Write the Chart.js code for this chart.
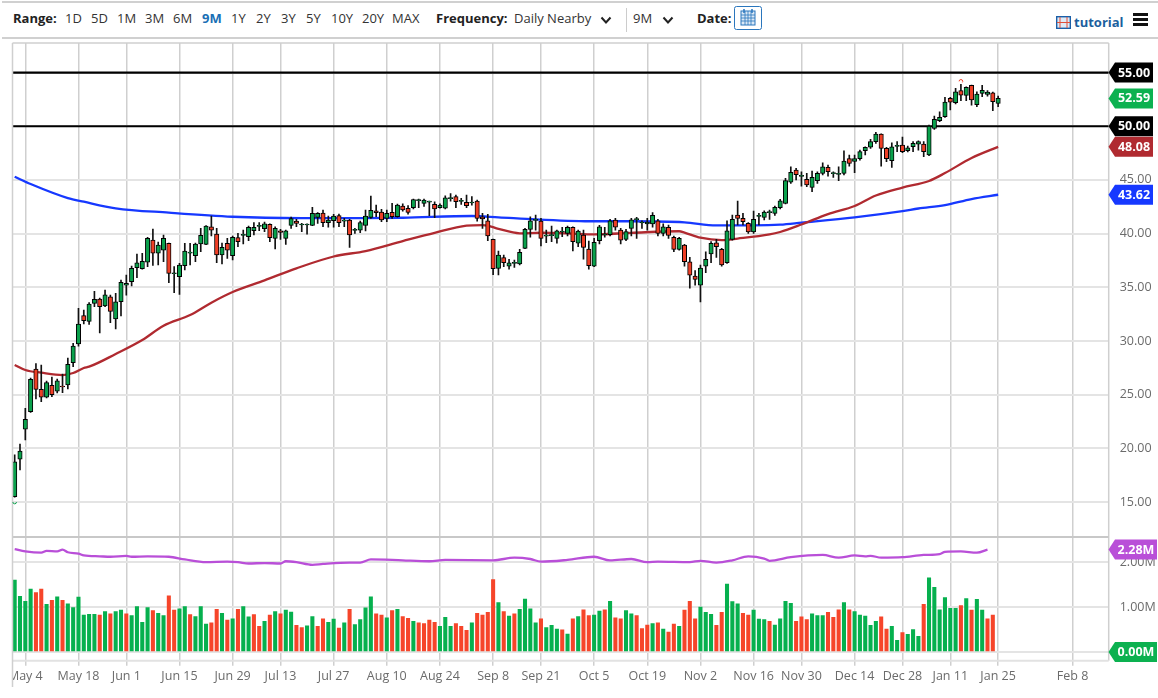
<!DOCTYPE html>
<html>
<head>
<meta charset="utf-8">
<title>Daily Nearby</title>
<script src="https://cdn.jsdelivr.net/npm/chart.js@4/dist/chart.umd.min.js"></script>
<style>
  html, body { margin: 0; padding: 0; background: #fff; }
  body { width: 1158px; height: 698px; overflow: hidden; position: relative; font-family: "Open Sans", sans-serif; }
  #chart { position: absolute; left: 0; top: 0; }
  .rule { position: absolute; left: 2px; right: 0; height: 1px; background: #d0d0d0; }
  .tb { position: absolute; top: 9px; font-size: 13px; line-height: 18px; color: #333; white-space: nowrap; }
  .tb.b { font-weight: 700; color: #222; }
  .tb.on { font-weight: 700; color: #1a6fb5; }
  .ic { position: absolute; }
</style>
</head>
<body>
<div class="rule" style="top:1px;height:2px"></div>
<div class="rule" style="top:37px;height:2px"></div>
<span class="tb b" style="left:13px">Range:</span>
<span class="tb" style="left:65px">1D</span>
<span class="tb" style="left:91px">5D</span>
<span class="tb" style="left:117px">1M</span>
<span class="tb" style="left:145px">3M</span>
<span class="tb" style="left:173px">6M</span>
<span class="tb on" style="left:202px">9M</span>
<span class="tb" style="left:231px">1Y</span>
<span class="tb" style="left:256px">2Y</span>
<span class="tb" style="left:281px">3Y</span>
<span class="tb" style="left:306px">5Y</span>
<span class="tb" style="left:331px">10Y</span>
<span class="tb" style="left:362px">20Y</span>
<span class="tb" style="left:392px">MAX</span>
<span class="tb b" style="left:436px">Frequency:</span>
<span class="tb" style="left:514px">Daily Nearby</span>
<svg class="ic" style="left:600px;top:16px" width="12" height="9"><polyline points="1.5,1.5 6,6.5 10.5,1.5" fill="none" stroke="#222" stroke-width="2"/></svg>
<div class="ic" style="left:626px;top:8px;width:1px;height:24px;background:#ccc"></div>
<span class="tb" style="left:633px">9M</span>
<svg class="ic" style="left:662px;top:16px" width="12" height="9"><polyline points="1.5,1.5 6,6.5 10.5,1.5" fill="none" stroke="#222" stroke-width="2"/></svg>
<span class="tb b" style="left:697px">Date:</span>
<svg class="ic" style="left:734px;top:6px" width="28" height="24"><rect x="0.5" y="0.5" width="27" height="23" rx="2" fill="#fff" stroke="#2a76bd"/><rect x="7" y="5" width="14" height="14" fill="#dbe8f5" stroke="#2a76bd"/><path d="M7 9h14M7 12h14M7 15h14M11 5v14M14 5v14M17 5v14" stroke="#2a76bd" stroke-width="0.8"/><path d="M10 3v4M18 3v4" stroke="#2a76bd" stroke-width="1.5"/></svg>
<svg class="ic" style="left:1056px;top:16px" width="15" height="13"><rect x="0.7" y="0.7" width="13.6" height="11.6" fill="#dfeaf6" stroke="#1a5fa8" stroke-width="1.4"/><path d="M4 1v11M11 1v11M1 6.5h13" stroke="#e0503a" stroke-width="1"/></svg>
<span class="tb" style="left:1074px;top:13px;font-weight:700;color:#1c5f9e;font-size:13px">tutorial</span>
<div class="ic" style="left:1133px;top:13px;width:15px;height:3px;background:#111"></div>
<div class="ic" style="left:1133px;top:18px;width:15px;height:3px;background:#111"></div>
<div class="ic" style="left:1133px;top:23px;width:15px;height:3px;background:#111"></div>
<canvas id="chart" width="1158" height="698"></canvas>
<script>
const tickIndexes = [2, 12, 21, 31, 41, 50, 60, 70, 80, 90, 99, 109, 119, 129, 139, 148, 158, 167, 176, 185, 199];
const tickLabels = ['May 4', 'May 18', 'Jun 1', 'Jun 15', 'Jun 29', 'Jul 13', 'Jul 27', 'Aug 10', 'Aug 24', 'Sep 8', 'Sep 21', 'Oct 5', 'Oct 19', 'Nov 2', 'Nov 16', 'Nov 30', 'Dec 14', 'Dec 28', 'Jan 11', 'Jan 25', 'Feb 8'];
const priceTicks = [15, 20, 25, 30, 35, 40, 45, 50, 55];
const volumeTicks = [0, 1, 2];
const levels = [55, 50];

const opens = [15.5,19.0,21.78,23.42,27.39,25.5,24.76,25.88,25.32,25.78,
  25.9,27.98,29.72,32.36,31.83,33.51,33.91,33.26,34.12,32.05,
  33.66,35.19,35.52,36.82,36.73,37.33,39.4,38.17,38.47,39.1,
  36.26,35.99,37.01,38.19,37.94,39.03,39.0,40.64,39.96,38.01,
  39.1,37.94,39.62,39.84,39.71,40.27,40.68,40.46,40.87,39.56,
  40.27,39.56,40.77,41.17,40.8,40.8,40.77,41.52,41.92,41.02,
  41.2,41.67,41.17,41.27,40.3,40.33,40.77,41.52,42.13,42.01,
  41.42,41.98,41.57,42.57,42.36,42.41,43.07,42.82,42.94,42.73,
  42.41,42.36,43.26,43.44,43.0,42.91,42.85,43.03,41.57,41.2,
  39.47,36.77,37.76,36.98,37.23,37.17,38.63,40.4,41.24,41.17,
  39.77,39.81,39.56,40.15,40.03,40.59,39.1,39.87,38.57,36.98,
  39.34,39.87,39.9,41.27,40.33,39.47,40.49,41.3,40.99,40.9,
  40.9,41.2,40.03,40.59,39.66,38.54,38.94,37.38,36.05,35.19,
  36.98,38.1,39.15,38.54,37.29,39.47,41.73,41.42,40.96,40.15,
  41.61,41.52,41.95,41.89,42.41,42.82,44.78,45.92,45.33,45.06,
  44.31,44.93,45.61,46.17,45.58,45.52,45.61,46.98,46.73,46.98,
  47.72,48.04,48.56,49.27,47.94,46.79,48.13,48.25,47.72,48.09,
  48.34,48.34,47.32,49.8,50.51,50.88,52.6,52.19,53.31,52.88,
  53.81,52.0,53.06,52.97,53.12,52.13];
const closes = [18.76,19.75,22.7,26.43,25.5,24.76,26.12,25.0,26.3,25.72,
  27.83,29.53,31.58,31.89,33.44,33.88,33.19,34.31,32.76,33.66,
  35.47,35.37,36.77,37.29,37.42,39.56,38.17,38.94,39.56,36.3,
  36.32,37.08,38.38,38.25,39.03,39.84,40.71,40.33,38.01,38.72,
  38.47,39.66,39.25,39.9,40.59,40.59,40.74,40.9,39.62,40.49,
  40.12,40.27,41.39,40.96,40.86,40.86,41.89,41.89,41.02,41.27,
  41.64,41.02,41.23,39.87,40.36,41.02,41.64,42.17,41.95,41.27,
  41.89,41.57,42.66,42.2,41.98,43.16,43.13,43.13,43.0,42.29,
  42.66,43.34,43.32,42.97,43.06,42.6,42.91,41.42,41.36,39.78,
  36.73,38.01,37.29,37.29,37.29,38.26,40.4,41.2,41.3,39.56,
  39.83,39.87,40.27,40.21,40.59,39.25,40.24,38.72,37.01,39.19,
  40.64,39.93,41.2,40.59,39.4,40.18,41.29,41.36,41.05,41.08,
  41.7,40.03,40.64,39.84,38.54,39.56,37.38,36.12,35.74,36.8,
  37.61,39.1,38.78,37.08,40.27,41.33,41.42,41.11,40.15,41.33,
  41.67,42.01,42.01,42.45,43.06,44.93,45.71,45.48,45.39,44.53,
  45.24,45.61,46.23,45.76,45.64,45.58,46.76,46.54,46.98,47.63,
  48.04,48.56,49.27,47.94,46.98,48.09,48.19,47.63,48.0,48.41,
  48.56,47.63,50.02,50.64,50.83,52.25,52.25,53.21,52.9,53.62,
  52.44,53.0,53.34,53.18,52.28,52.59];
const highs = [19.4,20.4,23.73,26.55,27.9,27.76,26.28,26.65,26.46,26.93,
  28.42,29.78,33.04,32.89,33.57,34.63,34.0,34.75,34.28,34.44,
  35.68,36.15,36.98,38.1,38.17,39.65,40.43,39.22,39.87,39.12,
  36.92,37.24,39.1,39.1,39.12,40.49,40.75,41.64,40.49,39.12,
  39.56,39.78,40.03,40.33,40.71,41.02,41.02,41.08,40.9,40.64,
  40.4,40.33,41.54,41.33,40.96,40.9,42.45,41.95,42.2,41.64,
  41.8,41.83,41.42,41.33,40.49,41.17,42.2,43.5,42.66,42.26,
  42.2,42.82,42.76,42.78,42.6,43.22,43.22,43.22,43.03,42.97,
  42.78,43.53,43.72,43.6,43.29,43.6,43.44,43.13,41.89,41.8,
  39.5,38.38,38.01,37.61,37.54,38.54,40.49,41.57,41.73,41.42,
  40.33,40.71,40.33,40.59,40.71,40.64,40.33,40.33,39.31,39.56,
  40.77,40.59,41.33,41.42,40.49,40.4,41.42,41.52,41.2,41.42,
  41.95,41.33,40.9,40.8,39.78,39.66,39.0,37.79,36.55,37.08,
  38.31,39.25,39.47,38.63,41.2,41.73,43.03,41.89,41.02,42.1,
  41.89,42.13,42.2,42.57,43.2,45.15,46.23,46.08,45.76,45.61,
  45.83,45.76,46.6,46.39,45.76,46.23,47.72,47.32,47.32,47.78,
  48.09,48.78,49.43,49.3,48.04,48.46,48.56,48.98,48.16,48.56,
  48.65,48.56,50.11,50.95,51.35,52.69,52.69,53.53,53.9,53.68,
  53.84,53.21,53.81,53.31,53.18,52.81];
const lows = [15.47,18.0,20.78,23.34,24.6,24.35,24.7,24.82,25.16,25.19,
  25.53,27.6,29.53,31.58,31.55,33.19,30.75,33.19,31.7,31.12,
  32.33,34.28,35.12,35.89,36.68,36.92,37.05,37.08,37.38,35.43,
  34.5,34.35,36.61,37.08,37.38,38.31,38.98,39.78,37.29,37.17,
  37.7,37.54,38.78,39.03,39.34,39.87,40.27,40.18,39.25,38.57,
  39.47,39.0,40.49,40.64,40.18,39.96,40.75,40.96,40.64,40.59,
  40.59,40.64,40.64,38.72,40.03,40.08,40.24,41.42,41.57,41.11,
  41.11,41.42,41.54,42.1,41.8,42.29,42.41,42.54,41.67,41.48,
  42.36,42.29,43.03,42.41,42.73,42.41,42.66,41.17,40.49,39.34,
  36.17,36.15,36.92,36.68,36.86,37.08,38.6,39.66,40.33,38.85,
  39.15,39.25,39.1,39.71,39.78,38.4,38.78,37.61,36.68,36.92,
  39.03,39.66,39.78,40.33,39.03,39.34,39.78,39.56,40.49,40.33,
  40.59,39.78,39.78,39.56,38.31,38.47,36.98,34.93,35.21,33.63,
  36.36,37.29,37.79,36.98,37.23,39.4,40.8,40.8,40.03,40.03,
  40.8,41.27,41.33,41.7,42.3,42.76,44.68,44.99,44.43,44.37,
  43.9,44.68,45.46,45.36,45.24,44.93,45.46,46.29,45.67,46.85,
  47.32,47.94,48.41,46.29,46.69,46.17,47.63,47.53,47.6,47.63,
  47.78,47.16,47.25,49.71,50.42,50.83,51.51,52.07,52.37,52.37,
  51.95,51.82,52.75,52.81,51.44,51.82];

const volumes = [1.60,1.24,1.13,1.40,1.32,1.40,1.06,1.15,1.23,1.15,
  1.07,0.99,1.22,0.82,0.84,0.84,0.82,0.90,0.85,0.90,
  0.93,0.85,0.81,1.01,0.66,0.99,0.92,0.86,0.81,1.25,
  0.93,0.96,1.01,0.83,0.79,1.01,0.62,0.65,0.95,0.86,
  0.71,0.74,0.95,1.01,0.78,0.83,0.57,0.68,0.82,0.90,
  0.85,0.93,0.89,0.59,0.54,0.58,0.79,0.57,0.74,0.66,
  0.73,0.53,0.65,0.95,0.61,0.72,0.98,1.23,0.85,0.82,
  0.76,0.92,0.95,0.79,0.75,0.68,0.65,0.63,0.71,0.66,
  0.57,0.77,0.57,0.63,0.57,0.48,0.65,0.86,0.82,0.88,
  1.61,1.10,0.90,0.80,0.85,0.95,1.18,0.96,0.65,0.74,
  0.54,0.59,0.51,0.49,0.40,0.74,0.79,0.94,0.81,0.82,
  0.91,0.94,1.13,0.76,0.74,0.92,0.85,0.81,0.52,0.60,
  0.63,0.65,0.51,0.44,0.62,0.57,0.93,1.13,0.74,1.00,
  0.88,0.84,0.59,0.88,1.51,1.12,1.07,0.86,0.82,0.93,
  0.73,0.72,0.68,0.60,0.74,1.13,1.08,0.68,0.78,0.72,
  0.85,0.81,0.81,0.88,0.77,0.94,1.10,0.94,0.90,0.82,
  0.80,0.59,0.68,0.78,0.51,0.57,0.26,0.43,0.39,0.50,
  0.35,1.06,1.65,1.44,0.94,1.21,0.97,0.97,1.03,1.19,
  0.93,1.17,0.93,0.74,0.82];
// 1 = green bar, 0 = red bar
const volumeUp = [1,1,1,1,0,0,1,0,1,0,1,1,1,1,1,1,0,1,0,1,
  1,0,1,1,1,1,0,1,1,0,0,1,1,0,1,1,1,0,0,1,
  0,1,0,1,1,0,0,1,0,1,0,1,1,0,0,1,1,0,0,1,
  1,0,1,0,1,1,1,1,0,0,1,0,1,0,0,1,0,0,0,0,
  1,1,1,0,0,0,1,0,0,0,0,1,0,1,0,1,1,1,1,0,
  1,1,1,0,1,0,1,0,0,1,1,0,1,0,0,1,1,0,0,0,
  1,0,1,0,0,1,0,0,0,1,1,1,0,0,1,1,1,0,0,1,
  1,1,0,1,1,1,1,0,0,0,1,1,1,0,0,0,1,0,1,1,
  1,1,1,0,0,1,1,0,1,1,1,0,1,1,1,1,1,1,0,1,
  0,1,1,0,0];

const ma50Idx = [0,2,5,9,11,13,14,19,24,28,33,37,41,47,53,60,66,73,79,85,88,89,91,95,99,104,109,116,125,126,129,133,136,142,144,148,153,158,162,167,172,175,180,185];
const ma50 = [27.77,27.3,27.05,26.83,27.02,27.49,27.61,28.79,30.09,31.42,32.42,33.57,34.56,35.65,36.77,37.87,38.38,39.31,40.08,40.74,40.8,40.75,40.45,40.03,40.08,40.03,39.93,40.07,40.22,40.1,39.62,39.4,39.54,39.92,40.15,40.85,41.82,42.57,43.55,44.29,44.9,45.64,47.04,48.08];
const ma200Idx = [0,3,10,13,19,29,41,54,66,73,86,91,98,109,116,126,132,139,144,148,158,167,170,175,180,185];
const ma200 = [45.3,44.62,43.31,42.97,42.36,41.95,41.57,41.45,41.45,41.48,41.64,41.52,41.33,41.15,41.15,41.05,40.77,40.77,40.83,41.02,41.52,42.1,42.34,42.66,43.22,43.62];
const interestIdx = [0,2,5,6,8,9,10,12,13,16,18,21,22,25,29,32,36,40,42,44,47,50,51,53,56,58,63,65,67,71,73,78,81,90,94,97,99,104,109,112,116,119,121,127,129,132,135,138,141,142,146,152,155,158,160,161,163,167,171,174,175,178,181,183];
const interest = [2.29,2.24,2.21,2.25,2.24,2.28,2.22,2.19,2.15,2.13,2.12,2.14,2.12,2.13,2.12,2.06,2.0,2.01,2.0,1.97,1.98,1.97,2.02,2.0,1.94,1.96,1.99,1.99,2.06,2.05,2.04,2.02,2.05,2.04,2.10,2.07,2.01,2.05,2.12,2.04,2.07,2.0,2.01,2.0,2.03,1.99,2.04,2.13,2.08,2.03,2.11,2.16,2.10,2.15,2.13,2.14,2.10,2.11,2.16,2.18,2.23,2.24,2.21,2.28];

const GREEN = '#0aa14c', RED = '#ef3f26', VOL_GREEN = '#06b04e', VOL_RED = '#f6452a';
const MA_RED = '#b02a30', MA_BLUE = '#1638ff', PURPLE = '#b94fd8', GREY = '#6b6b6b';
const X_MIN = -0.41, X_MAX = 205.8;
const PANEL_TOP = 43, PANEL_SPLIT = 537, PANEL_BOTTOM = 660.7, PANEL_LEFT = 12.5, PANEL_RIGHT = 1108.7;

const zip = (idx, vals) => idx.map((x, i) => ({ x, y: vals[i] }));
const line = (data, color, yAxisID, width, order) => ({
  type: 'line', data, yAxisID, order,
  borderColor: color, borderWidth: width, pointRadius: 0,
  cubicInterpolationMode: 'monotone',
});

// value tags on the right side: axis, value, text, colour, right edge
const tags = [
  ['y', 55, '55.00', '#000', 1153],
  ['y', closes[closes.length - 1], closes[closes.length - 1].toFixed(2), '#0cb150', 1153],
  ['y', 50, '50.00', '#000', 1153],
  ['y', ma50[ma50.length - 1], ma50[ma50.length - 1].toFixed(2), MA_RED, 1153],
  ['y', ma200[ma200.length - 1], ma200[ma200.length - 1].toFixed(2), MA_BLUE, 1153],
  ['y2', interest[interest.length - 1], interest[interest.length - 1].toFixed(2) + 'M', PURPLE, 1157],
  ['y2', 0, '0.00M', '#0cb150', 1157],
];

const framePlugin = {
  id: 'frame',
  beforeDatasetsDraw(chart) {
    const c = chart.ctx;
    c.save();
    c.strokeStyle = '#cfcfcf';
    c.lineWidth = 1.5;
    c.beginPath();
    c.moveTo(PANEL_LEFT, PANEL_TOP); c.lineTo(PANEL_RIGHT, PANEL_TOP);
    c.moveTo(PANEL_RIGHT, PANEL_TOP); c.lineTo(PANEL_RIGHT, PANEL_BOTTOM);
    c.stroke();
    c.lineWidth = 2;
    c.strokeStyle = '#c8c8c8';
    c.beginPath();
    c.moveTo(PANEL_LEFT, PANEL_SPLIT); c.lineTo(PANEL_RIGHT, PANEL_SPLIT);
    c.stroke();
    c.strokeStyle = '#e2e2e2';
    c.beginPath();
    c.moveTo(PANEL_LEFT, PANEL_BOTTOM); c.lineTo(PANEL_RIGHT, PANEL_BOTTOM);
    c.stroke();
    c.restore();
  },
  afterDraw(chart) {
    const c = chart.ctx;
    c.save();
    // first date label is cut by the left edge of the panel
    c.fillStyle = '#fff';
    c.fillRect(0, PANEL_BOTTOM, PANEL_LEFT, 698 - PANEL_BOTTOM);
    c.strokeStyle = '#cfcfcf';
    c.lineWidth = 1.5;
    c.beginPath();
    c.moveTo(PANEL_LEFT, PANEL_TOP); c.lineTo(PANEL_LEFT, 687);
    c.stroke();

    // new high / new low marks
    const sx = chart.scales.x, sy = chart.scales.y;
    c.lineWidth = 1;
    c.strokeStyle = '#ef3f26';
    c.beginPath();
    c.arc(sx.getPixelForValue(178), sy.getPixelForValue(highs[178]) - 3, 1.8, Math.PI, 0.2 * Math.PI);
    c.stroke();
    c.strokeStyle = '#0aa14c';
    c.beginPath();
    c.arc(sx.getPixelForValue(0), sy.getPixelForValue(lows[0]) + 5, 1.8, 0, Math.PI);
    c.stroke();

    // value tags
    c.font = '700 12.5px "Open Sans"';
    c.textAlign = 'center';
    c.textBaseline = 'middle';
    tags.forEach(([axis, value, text, color, right]) => {
      const y = chart.scales[axis].getPixelForValue(value);
      c.fillStyle = color;
      c.beginPath();
      c.moveTo(1108.5, y);
      c.lineTo(1115, y - 10);
      c.lineTo(right, y - 10);
      c.lineTo(right, y + 10);
      c.lineTo(1115, y + 10);
      c.closePath();
      c.fill();
      c.fillStyle = '#fff';
      c.fillText(text, (right + 1115) / 2, y + 0.5);
    });
    c.restore();
  },
};

Chart.defaults.font.family = '"Open Sans", sans-serif';

new Chart(document.getElementById('chart'), {
  type: 'bar',
  data: {
    datasets: [
      {
        data: opens.map((o, i) => ({ x: i, y: [o, closes[i]] })),
        yAxisID: 'y', order: 1, grouped: false, barThickness: 4.4, minBarLength: 1,
        backgroundColor: opens.map((o, i) => (closes[i] >= o ? GREEN : RED)),
        borderColor: '#000', borderWidth: 1, borderSkipped: false,
      },
      {
        data: lows.map((l, i) => ({ x: i, y: [l, highs[i]] })),
        yAxisID: 'y', order: 2, grouped: false, barThickness: 1,
        backgroundColor: '#111',
      },
      {
        data: volumes.map((v, i) => ({ x: i, y: v })),
        yAxisID: 'y2', order: 3, grouped: false, barThickness: 3.4,
        backgroundColor: volumeUp.map(u => (u ? VOL_GREEN : VOL_RED)),
      },
      line(zip(ma50Idx, ma50), MA_RED, 'y', 2.3, 4),
      line(zip(ma200Idx, ma200), MA_BLUE, 'y', 2.3, 5),
      line(zip(interestIdx, interest), PURPLE, 'y2', 2.3, 6),
      ...levels.map(v => line([{ x: X_MIN, y: v }, { x: X_MAX, y: v }], '#000', 'y', 2.2, 7)),
    ],
  },
  plugins: [framePlugin],
  options: {
    responsive: false,
    animation: false,
    devicePixelRatio: 1,
    layout: { padding: { left: PANEL_LEFT, top: PANEL_TOP, right: 0, bottom: 0 } },
    plugins: { legend: { display: false }, tooltip: { enabled: false } },
    scales: {
      x: {
        type: 'linear', min: X_MIN, max: X_MAX, offset: false,
        afterBuildTicks: axis => { axis.ticks = tickIndexes.map(value => ({ value })); },
        afterFit: axis => { axis.height = 698 - PANEL_BOTTOM; axis.paddingLeft = 0; axis.paddingRight = 0; },
        grid: { color: '#cfcfcf', lineWidth: 1.5, tickLength: 5, offset: false },
        border: { display: false },
        ticks: {
          autoSkip: false, maxRotation: 0, minRotation: 0, padding: 3,
          color: GREY, font: { size: 12.5 },
          callback: value => tickLabels[tickIndexes.indexOf(value)],
        },
      },
      y: {
        type: 'linear', position: 'right', stack: 'panels', stackWeight: PANEL_SPLIT - PANEL_TOP,
        min: 11.75, max: 57.75,
        afterBuildTicks: axis => { axis.ticks = priceTicks.map(value => ({ value })); },
        afterFit: axis => { axis.width = 1158 - PANEL_RIGHT; },
        grid: { color: '#e4e4e4', lineWidth: 2, drawTicks: false },
        border: { display: false },
        ticks: { padding: 11, color: GREY, font: { size: 12.5 }, callback: v => v.toFixed(2) },
      },
      y2: {
        type: 'linear', position: 'right', stack: 'panels', stackWeight: PANEL_BOTTOM - PANEL_SPLIT,
        min: -0.195, max: 2.56,
        afterBuildTicks: axis => { axis.ticks = volumeTicks.map(value => ({ value })); },
        afterFit: axis => { axis.width = 1158 - PANEL_RIGHT; },
        grid: { color: '#e4e4e4', lineWidth: 2, drawTicks: false },
        border: { display: false },
        ticks: { padding: 11, color: GREY, font: { size: 12.5 }, callback: v => v.toFixed(2) + 'M' },
      },
    },
  },
});
</script>
</body>
</html>
